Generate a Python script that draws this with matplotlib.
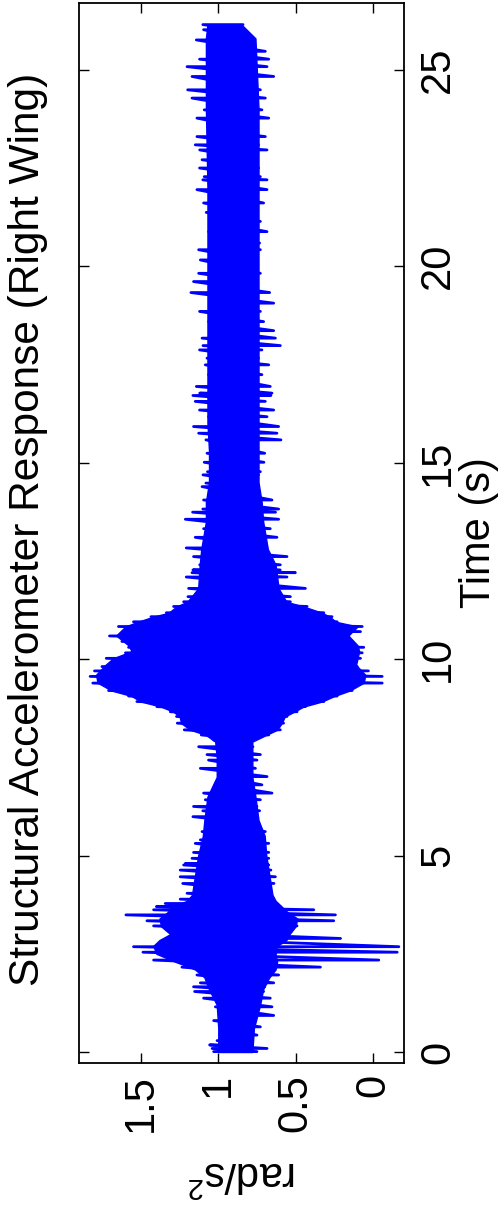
import matplotlib
matplotlib.use("Agg")
import matplotlib.pyplot as plt

plt.rcParams['font.family'] = ['Liberation Sans', 'DejaVu Sans']
plt.rcParams['mathtext.fontset'] = 'custom'
plt.rcParams['mathtext.rm'] = 'Liberation Sans'
plt.rcParams['mathtext.it'] = 'Liberation Sans'

# ---------------- data ----------------
title_text = "Structural Accelerometer Response (Right Wing)"
time_label = "Time (s)"
value_label = r"rad/s$^{\mathrm{2}}$"

time_ticks = [0, 5, 10, 15, 20, 25]
value_ticks = [0, 0.5, 1, 1.5]
value_ticklabels = ["0", "0.5", "1", "1.5"]

# successive oscillation extremes: time (s), crest value, trough value (rad/s^2)
peak_t = [0.01, 0.09, 0.18, 0.29, 0.43, 0.64, 0.80, 0.93, 1.15, 1.37, 1.54, 1.66, 1.76,
          1.96, 2.16, 2.34, 2.54, 2.68, 2.89, 3.06, 3.21, 3.34, 3.49, 3.62, 3.70, 3.78,
          3.89, 4.04, 4.29, 4.46, 4.63, 4.76, 4.80, 4.93, 5.08, 5.31, 5.40, 5.61, 5.82,
          5.99, 6.14, 6.25, 6.42, 6.59, 6.80, 7.01, 7.22, 7.43, 7.57, 7.77, 7.94, 8.07,
          8.20, 8.37, 8.54, 8.66, 8.79, 8.92, 9.06, 9.20, 9.39, 9.56, 9.70, 9.81, 10.02,
          10.16, 10.30, 10.45, 10.59, 10.70, 10.83, 10.95, 11.08, 11.18, 11.34, 11.46,
          11.59, 11.80, 12.09, 12.20, 12.27, 12.40, 12.61, 12.83, 13.10, 13.32, 13.56,
          13.74, 13.82, 14.05, 14.39, 14.48, 14.69, 14.77, 15.01, 15.24, 15.58, 15.75,
          15.92, 16.17, 16.34, 16.56, 16.71, 16.77, 16.94, 17.24, 17.49, 17.66, 17.87,
          17.98, 18.17, 18.36, 18.59, 18.85, 19.06, 19.33, 19.61, 19.82, 20.16, 20.42,
          20.59, 20.88, 21.14, 21.37, 21.61, 21.95, 22.20, 22.28, 22.50, 22.71, 22.96,
          23.09, 23.30, 23.47, 23.77, 23.98, 24.28, 24.49, 24.83, 25.08, 25.27, 25.47,
          25.76, 26.02, 26.15]
peak_hi = [1.030, 1.040, 1.056, 1.008, 0.990, 0.990, 1.030, 0.987, 1.019, 1.095, 1.153,
           1.160, 1.116, 1.138, 1.235, 1.418, 1.487, 1.548, 1.310, 1.310, 1.418, 1.461,
           1.597, 1.418, 1.400, 1.343, 1.246, 1.202, 1.230, 1.246, 1.246, 1.224, 1.213,
           1.170, 1.160, 1.149, 1.116, 1.105, 1.041, 1.164, 1.100, 1.160, 1.084, 1.095,
           0.987, 0.987, 1.116, 1.063, 1.073, 1.127, 1.030, 1.110, 1.220, 1.265, 1.270,
           1.310, 1.397, 1.526, 1.580, 1.709, 1.811, 1.828, 1.800, 1.752, 1.724, 1.600,
           1.580, 1.623, 1.703, 1.602, 1.645, 1.548, 1.435, 1.336, 1.289, 1.224, 1.196,
           1.192, 1.207, 1.170, 1.164, 1.120, 1.160, 1.207, 1.149, 1.095, 1.213, 1.166,
           1.100, 1.095, 1.105, 1.080, 1.099, 1.070, 1.091, 1.073, 1.080, 1.127, 1.160,
           1.063, 1.121, 1.149, 1.164, 1.120, 1.142, 1.063, 1.084, 1.073, 1.121, 1.099,
           1.105, 1.030, 1.063, 1.121, 1.041, 1.177, 1.160, 1.127, 1.116, 1.127, 1.052,
           1.063, 1.041, 1.078, 1.095, 1.138, 1.100, 1.091, 1.121, 1.105, 1.120, 1.149,
           1.138, 1.041, 1.138, 1.091, 1.170, 1.198, 1.170, 1.202, 1.121, 1.052, 1.142,
           1.095, 1.100]
peak_lo = [0.750, 0.685, 0.793, 0.782, 0.750, 0.728, 0.776, 0.642, 0.653, 0.664, 0.707,
           0.700, 0.642, 0.610, 0.340, -0.037, -0.156, -0.167, 0.210, 0.530, 0.491, 0.254,
           0.243, 0.383, 0.599, 0.642, 0.660, 0.664, 0.640, 0.631, 0.660, 0.674, 0.685,
           0.674, 0.674, 0.674, 0.728, 0.696, 0.772, 0.776, 0.733, 0.750, 0.728, 0.653,
           0.718, 0.685, 0.760, 0.750, 0.728, 0.776, 0.776, 0.674, 0.599, 0.578, 0.556,
           0.491, 0.437, 0.318, 0.232, 0.135, -0.059, -0.059, 0.030, 0.102, 0.081, 0.070,
           0.060, 0.135, 0.156, 0.081, 0.070, 0.232, 0.265, 0.318, 0.426, 0.534, 0.534,
           0.437, 0.556, 0.502, 0.600, 0.599, 0.556, 0.685, 0.621, 0.664, 0.610, 0.630,
           0.610, 0.653, 0.750, 0.750, 0.740, 0.728, 0.705, 0.700, 0.595, 0.621, 0.610,
           0.685, 0.642, 0.696, 0.660, 0.653, 0.664, 0.718, 0.674, 0.740, 0.718, 0.599,
           0.631, 0.642, 0.707, 0.728, 0.642, 0.668, 0.772, 0.728, 0.772, 0.728, 0.733,
           0.685, 0.728, 0.761, 0.707, 0.685, 0.685, 0.728, 0.740, 0.750, 0.685, 0.740,
           0.696, 0.761, 0.674, 0.718, 0.696, 0.728, 0.642, 0.685, 0.674, 0.696, 0.782,
           0.858, 0.840]

# dense core of the band (where the oscillation strokes overlap)
core_t = [0.0, 0.6, 1.2, 1.6, 1.9, 2.1, 2.3, 2.5, 2.7, 2.85, 3.0, 3.2, 3.4, 3.55, 3.7,
          3.85, 4.0, 4.5, 5.0, 5.5, 5.9, 6.5, 7.0, 7.5, 7.9, 8.07, 8.2, 8.37, 8.54, 8.66,
          8.79, 8.92, 9.06, 9.2, 9.4, 9.6, 9.85, 10.02, 10.2, 10.35, 10.6, 10.83, 10.95,
          11.08, 11.18, 11.34, 11.46, 11.8, 12.4, 12.8, 13.5, 14.0, 14.5, 15.3, 16.0, 18.0,
          20.0, 22.0, 24.0, 25.8, 26.15]
core_hi = [1.00, 1.00, 1.01, 1.06, 1.09, 1.15, 1.28, 1.40, 1.42, 1.38, 1.31, 1.37, 1.38,
           1.33, 1.30, 1.20, 1.17, 1.15, 1.13, 1.10, 1.09, 1.07, 1.01, 1.01, 1.02, 1.08,
           1.18, 1.24, 1.25, 1.29, 1.37, 1.50, 1.56, 1.69, 1.78, 1.79, 1.73, 1.68, 1.56,
           1.58, 1.66, 1.60, 1.52, 1.42, 1.32, 1.27, 1.20, 1.13, 1.12, 1.11, 1.08, 1.08,
           1.06, 1.06, 1.07, 1.07, 1.07, 1.07, 1.08, 1.08, 1.07]
core_lo = [0.78, 0.77, 0.73, 0.71, 0.67, 0.63, 0.62, 0.63, 0.62, 0.56, 0.54, 0.50, 0.49,
           0.55, 0.59, 0.63, 0.65, 0.67, 0.69, 0.70, 0.74, 0.76, 0.78, 0.78, 0.78, 0.69,
           0.62, 0.59, 0.57, 0.51, 0.45, 0.33, 0.25, 0.15, 0.06, 0.05, 0.11, 0.10, 0.09,
           0.10, 0.16, 0.10, 0.24, 0.28, 0.33, 0.45, 0.56, 0.61, 0.63, 0.68, 0.71, 0.72,
           0.74, 0.74, 0.74, 0.74, 0.74, 0.74, 0.74, 0.76, 0.85]

# ---------------- figure ----------------
W, H = 502, 1211
fig = plt.figure(figsize=(W / 100, H / 100), dpi=100)
ax = fig.add_axes([79 / W, (H - 1063) / H, (404 - 79) / W, (1063 - 3) / H])

blue = '#0000FF'
lw = 2.0
ax.fill_betweenx(core_t, core_lo, core_hi, color=blue, linewidth=1.0,
                 edgecolor=blue)
# the oscillation: each crest followed by its trough
sig_x, sig_y = [], []
for t, hi, lo in zip(peak_t, peak_hi, peak_lo):
    sig_x += [hi, lo]
    sig_y += [t, t]
ax.plot(sig_x, sig_y, color=blue, linewidth=lw, solid_capstyle='round',
        solid_joinstyle='round')

ax.set_xlim(1.9, -0.2)
ax.set_ylim(-0.28, 26.7)

ax.set_xticks(value_ticks)
ax.set_xticklabels(value_ticklabels, rotation=90, fontsize=30, va='top', ha='center')
ax.set_yticks(time_ticks)
ax.set_yticklabels([str(t) for t in time_ticks], rotation=90, fontsize=30,
                   va='center', ha='left')
ax.tick_params(axis='both', direction='in', length=7.5, width=1.0, top=True,
               right=True, left=True, bottom=True, labelleft=False, labelright=True,
               colors='black')
ax.tick_params(axis='x', pad=8)
ax.tick_params(axis='y', pad=10)
for s in ax.spines.values():
    s.set_linewidth(1.3)
    s.set_color('black')

fig.text(28 / W, 1 - 529 / H, title_text, rotation=90, ha='center', va='center',
         fontsize=30.5)
fig.text(479 / W, 1 - 533 / H, time_label, rotation=90, ha='center', va='center',
         fontsize=30)
fig.text(242 / W, 1 - 1172 / H, value_label, rotation=180, ha='center', va='center',
         fontsize=30)

fig.savefig('out.png', dpi=100)
